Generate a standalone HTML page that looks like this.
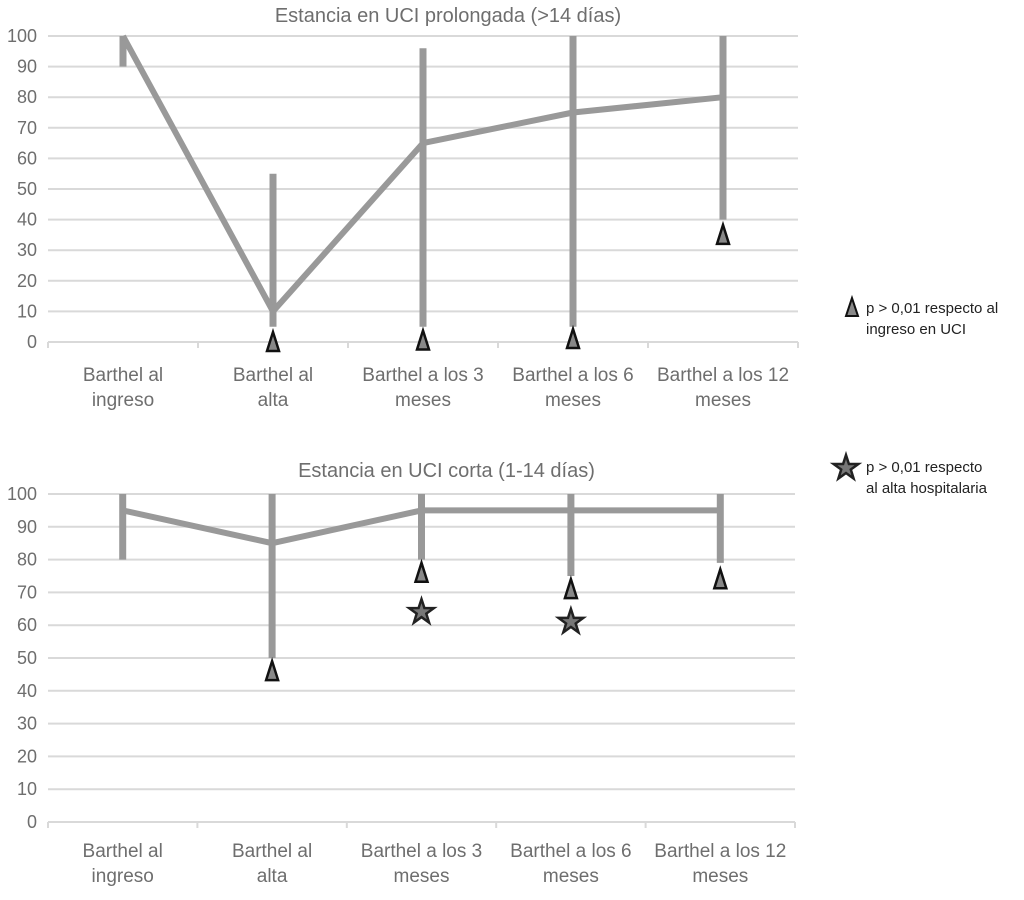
<!DOCTYPE html>
<html><head><meta charset="utf-8"><style>
body{margin:0;background:#fff;width:1024px;height:895px;overflow:hidden}
svg text{font-family:"Liberation Sans",sans-serif;fill:#6e6e6e}
</style></head><body>
<svg id="chart" width="1024" height="895" xmlns="http://www.w3.org/2000/svg"></svg>
<script>
const categories=[["Barthel al","ingreso"],["Barthel al","alta"],["Barthel a los 3","meses"],["Barthel a los 6","meses"],["Barthel a los 12","meses"]];
const yTicks=[0,10,20,30,40,50,60,70,80,90,100];
const topMedian=[100,10,65,75,80];
const topLow=[90,5,5,5,40];
const topHigh=[100,55,96,100,100];
const topTriangles=[null,0,0.5,1,35];
const botMedian=[95,85,95,95,95];
const botLow=[80,50,80,75,79];
const botHigh=[100,100,100,100,100];
const botTriangles=[null,46,76,71,74];
const botStars=[null,null,64,61,null];

const svg=document.getElementById('chart');
const NS='http://www.w3.org/2000/svg';
function el(tag,attrs,parent){const e=document.createElementNS(NS,tag);for(const k in attrs)e.setAttribute(k,attrs[k]);(parent||svg).appendChild(e);return e;}

function panel(cfg){
  const g=el('g',{});
  
  
  const x0=cfg.x0,x1=cfg.x1,yTop=cfg.yTop,yBot=cfg.yBot;
  const yS=v=>yBot-(v/100)*(yBot-yTop);
  const bw=(x1-x0)/categories.length;
  const xS=i=>x0+bw*(i+0.5);
  const t=el('text',{x:(x0+x1)/2+25,y:cfg.titleY,'text-anchor':'middle','font-size':'20'},g);
  t.textContent=cfg.title;
  
  
  yTicks.forEach(v=>{
    const y=yS(v);
    if(v>0){const gl=el('line',{x1:x0,x2:x1,y1:y,y2:y,stroke:'#d9d9d9','stroke-width':2},g);
      
      }
    const lb=el('text',{x:37,y:y+6,'text-anchor':'end','font-size':'18'},g);
    lb.textContent=v;
    
    
  });
  const ax=el('line',{x1:x0,x2:x1,y1:yBot,y2:yBot,stroke:'#d9d9d9','stroke-width':2},g);
  
  
  for(let i=0;i<=categories.length;i++){
    const tk=el('line',{x1:x0+bw*i,x2:x0+bw*i,y1:yBot,y2:yBot+6,stroke:'#d9d9d9','stroke-width':2},g);
    
    
  }
  categories.forEach((c,i)=>{
    c.forEach((line,j)=>{
      const tx=el('text',{x:xS(i),y:yBot+cfg.labelOff+j*25,'text-anchor':'middle','font-size':'19'},g);
      tx.textContent=line;
      
      
    });
  });
  cfg.low.forEach((lo,i)=>{
    const r=el('line',{x1:xS(i),x2:xS(i),y1:yS(lo),y2:yS(cfg.high[i]),stroke:'#999','stroke-width':7},g);
    
    
  });
  const pts=cfg.median.map((v,i)=>xS(i)+','+yS(v)).join(' ');
  const pl=el('polyline',{points:pts,fill:'none',stroke:'#999','stroke-width':6,'stroke-linejoin':'round'},g);
  
  
  cfg.tri.forEach((v,i)=>{
    if(v===null)return;
    const x=xS(i),y=yS(v);
    const p=el('polygon',{points:`${x},${y-10} ${x-6},${y+9} ${x+6},${y+9}`,fill:'#888',stroke:'#111','stroke-width':2.5},g);
    
    
  });
  (cfg.stars||[]).forEach((v,i)=>{
    if(v===null)return;
    drawStar(g,xS(i),yS(v));
  });
}
function drawStar(g,cx,cy){
  let p=[];for(let k=0;k<10;k++){const r=k%2?5:13,a=-Math.PI/2+k*Math.PI/5;p.push((cx+r*Math.cos(a)).toFixed(1)+','+(cy+r*Math.sin(a)).toFixed(1));}
  const s=el('polygon',{points:p.join(' '),fill:'#777',stroke:'#222','stroke-width':2.5},g);
  
  
}
panel({name:'top-panel',title:'Estancia en UCI prolongada (>14 días)',titleY:22,x0:48,x1:798,yTop:36,yBot:342,labelOff:39,median:topMedian,low:topLow,high:topHigh,tri:topTriangles});
panel({name:'bottom-panel',title:'Estancia en UCI corta (1-14 días)',titleY:477,x0:48,x1:795,yTop:494,yBot:822,labelOff:35,median:botMedian,low:botLow,high:botHigh,tri:botTriangles,stars:botStars});

const lg=el('g',{});


const lt=el('polygon',{points:'852,298 846,316 858,316',fill:'#888',stroke:'#111','stroke-width':2},lg);


[['p > 0,01 respecto al',313],['ingreso en UCI',334]].forEach(a=>{const t=el('text',{x:866,y:a[1],'font-size':'15',style:'fill:#222'},lg);t.textContent=a[0];

});
drawStar(lg,846,468);
[['p > 0,01 respecto',472],['al alta hospitalaria',493]].forEach(a=>{const t=el('text',{x:866,y:a[1],'font-size':'15',style:'fill:#222'},lg);t.textContent=a[0];

});
</script>
</body></html>
